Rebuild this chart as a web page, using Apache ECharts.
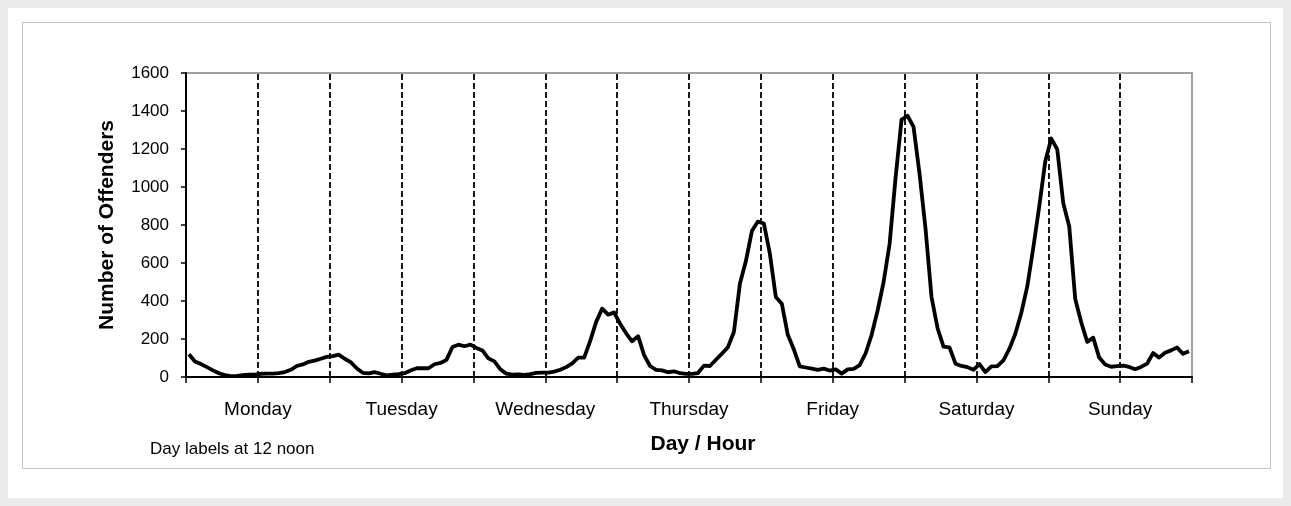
<!DOCTYPE html>
<html>
<head>
<meta charset="utf-8">
<script src="https://cdn.jsdelivr.net/npm/echarts@6/dist/echarts.min.js"></script>
<style>
    body { margin: 0; background: #ebebeb; }
    #panel { position: absolute; left: 8px; top: 8px; width: 1275px; height: 490px; background: #fff; }
    #frame { position: absolute; left: 22px; top: 22px; width: 1247px; height: 445px; border: 1px solid #c4c4c4; }
    #chart { position: absolute; left: 0; top: 0; width: 1291px; height: 506px; }
</style>
</head>
<body>
<div id="panel"></div>
<div id="frame"></div>
<div id="chart"></div>
<script>
    /** hourly counts, hour 0..23 of each day */
    var monday    = [120, 82, 68, 52, 35, 20, 10, 5, 6, 10, 12, 12, 17, 18, 18, 20, 26, 38, 58, 66, 80, 86, 96, 106]
    var tuesday   = [110, 118, 96, 78, 46, 22, 19, 26, 17, 9, 12, 15, 20, 34, 46, 47, 46, 67, 74, 90, 158, 170, 162, 170]
    var wednesday = [153, 140, 98, 82, 40, 18, 12, 14, 11, 15, 22, 23, 23, 28, 38, 52, 72, 102, 102, 190, 290, 360, 328, 340]
    var thursday  = [280, 230, 188, 215, 115, 58, 38, 35, 25, 30, 20, 16, 16, 21, 60, 58, 91, 123, 157, 237, 491, 610, 768, 818]
    var friday    = [808, 650, 421, 386, 222, 146, 56, 50, 44, 37, 44, 34, 40, 18, 40, 43, 62, 125, 222, 350, 500, 700, 1050, 1355]
    var saturday  = [1375, 1316, 1070, 780, 421, 258, 160, 156, 70, 58, 52, 38, 68, 26, 56, 57, 88, 148, 228, 338, 478, 682, 900, 1135]
    var sunday    = [1255, 1198, 915, 792, 410, 288, 185, 207, 102, 66, 54, 57, 60, 53, 41, 53, 70, 126, 102, 128, 140, 155, 122, 136]

    var dayNames = ['Monday', 'Tuesday', 'Wednesday', 'Thursday', 'Friday', 'Saturday', 'Sunday']
    var dividerHours = [12, 24, 36, 48, 60, 72, 84, 96, 108, 120, 132, 144, 156]

    var counts = [].concat(monday, tuesday, wednesday, thursday, friday, saturday, sunday)
    // each hour is plotted in the middle of its slot
    var seriesData = counts.map((v, i) => [i + 0.5, v])

    var font = 'Arial, "Liberation Sans", sans-serif'

    var theChart = echarts.init(document.getElementById('chart'), null, { renderer: 'canvas' });
    var option = {
        backgroundColor: 'rgba(0,0,0,0)',
        animation: false,
        grid: {
            left: 186,
            top: 73,
            width: 1006,
            height: 304,
            show: true,
            borderColor: '#a0a0a0',
            borderWidth: 2
        },
        graphic: [{
            type: 'text',
            left: 150,
            top: 441,
            style: { text: 'Day labels at 12 noon', fontFamily: font, fontSize: 17, fill: '#000' }
        }],
        xAxis: {
            type: 'value',
            min: 0,
            max: 168,
            interval: 12,
            name: 'Day / Hour',
            nameLocation: 'middle',
            nameGap: 57,
            nameTextStyle: { fontFamily: font, fontSize: 21, fontWeight: 'bold', color: '#000', padding: [0, 0, 0, 28] },
            axisLine: { lineStyle: { color: '#000', width: 2 } },
            axisTick: { length: 6, lineStyle: { color: '#000', width: 1.5 } },
            axisLabel: {
                margin: 23,
                fontFamily: font,
                fontSize: 19,
                color: '#000',
                formatter: (v) => (v % 24 == 12 ? dayNames[(v - 12) / 24] : '')
            },
            splitLine: { show: false }
        },
        yAxis: {
            type: 'value',
            min: 0,
            max: 1600,
            interval: 200,
            name: 'Number of Offenders',
            nameLocation: 'middle',
            nameGap: 68,
            nameTextStyle: { fontFamily: font, fontSize: 21, fontWeight: 'bold', color: '#000' },
            axisLine: { show: true, lineStyle: { color: '#000', width: 2 } },
            axisTick: { show: true, length: 5, lineStyle: { color: '#000', width: 1.5 } },
            axisLabel: { margin: 17, fontFamily: font, fontSize: 17, color: '#000', formatter: (v) => String(v) },
            splitLine: { show: false }
        },
        series: [{
            name: 'dividers',
            type: 'line',
            data: [],
            z: 1,
            silent: true,
            markLine: {
                silent: true,
                symbol: ['none', 'none'],
                label: { show: false },
                lineStyle: { color: '#000', width: 1.8, type: [6, 3] },
                data: dividerHours.map(h => ({ xAxis: h }))
            }
        }, {
            name: 'Offenders',
            type: 'line',
            z: 3,
            showSymbol: false,
            symbol: 'none',
            lineStyle: { color: '#000', width: 3.8, join: 'round' },
            data: seriesData
        }]
    };
    theChart.setOption(option);
</script>
</body>
</html>
